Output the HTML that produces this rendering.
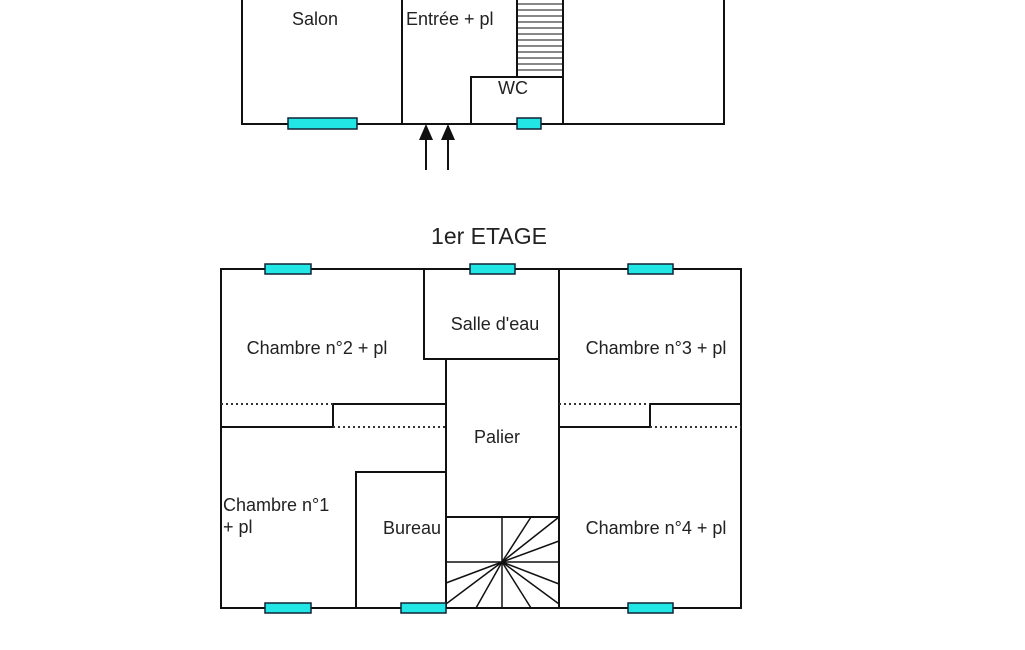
<!DOCTYPE html>
<html><head><meta charset="utf-8"><style>
html,body{margin:0;padding:0;background:#fff;}
svg{display:block}
text{font-family:"Liberation Sans",Arial,sans-serif;fill:#222;}
</style></head><body>
<svg width="1025" height="650" viewBox="0 0 1025 650" xmlns="http://www.w3.org/2000/svg">
<g stroke="#111" stroke-width="2" fill="none">
<polyline points="242,0 242,124 724,124 724,0"/>
<line x1="402" y1="0" x2="402" y2="124"/>
<polyline points="471,124 471,77 563,77 563,124"/>
<line x1="517" y1="0" x2="517" y2="77"/>
<line x1="563" y1="0" x2="563" y2="77"/>
</g>
<g stroke="#111" stroke-width="1">
<line x1="517" y1="4" x2="563" y2="4"/><line x1="517" y1="10" x2="563" y2="10"/>
<line x1="517" y1="16" x2="563" y2="16"/><line x1="517" y1="22" x2="563" y2="22"/>
<line x1="517" y1="28" x2="563" y2="28"/><line x1="517" y1="34" x2="563" y2="34"/>
<line x1="517" y1="40" x2="563" y2="40"/><line x1="517" y1="46" x2="563" y2="46"/>
<line x1="517" y1="52" x2="563" y2="52"/><line x1="517" y1="58" x2="563" y2="58"/>
<line x1="517" y1="64" x2="563" y2="64"/><line x1="517" y1="70" x2="563" y2="70"/>
</g>
<g fill="#22e6e6" stroke="#123" stroke-width="1.5">
<rect x="288" y="118" width="69" height="11"/>
<rect x="517" y="118" width="24" height="11"/>
</g>
<g stroke="#111" stroke-width="2">
<line x1="426" y1="170" x2="426" y2="138"/>
<line x1="448" y1="170" x2="448" y2="138"/>
</g>
<polygon points="426,124 419,140 433,140" fill="#111"/>
<polygon points="448,124 441,140 455,140" fill="#111"/>
<text x="315" y="25" font-size="18" text-anchor="middle">Salon</text>
<text x="406" y="25" font-size="18">Entrée + pl</text>
<text x="513" y="94" font-size="18" text-anchor="middle">WC</text>

<text x="489" y="244" font-size="23" text-anchor="middle">1er ETAGE</text>
<g stroke="#111" stroke-width="2" fill="none">
<rect x="221" y="269" width="520" height="339"/>
<polyline points="424,269 424,359 559,359"/>
<line x1="559" y1="269" x2="559" y2="608"/>
<line x1="446" y1="359" x2="446" y2="608"/>
<polyline points="221,427 333,427 333,404 446,404"/>
<polyline points="559,427 650,427 650,404 741,404"/>
<polyline points="356,608 356,472 446,472"/>
<line x1="446" y1="517" x2="559" y2="517"/>
</g>
<g stroke="#333" stroke-width="2" stroke-dasharray="2,3">
<line x1="221" y1="404" x2="333" y2="404"/>
<line x1="333" y1="427" x2="446" y2="427"/>
<line x1="559" y1="404" x2="650" y2="404"/>
<line x1="650" y1="427" x2="741" y2="427"/>
</g>
<g stroke="#111" stroke-width="1.5">
<line x1="502" y1="517" x2="502" y2="608"/>
<line x1="446" y1="562" x2="559" y2="562"/>
<line x1="502" y1="562" x2="531" y2="517"/>
<line x1="502" y1="562" x2="559" y2="517"/>
<line x1="502" y1="562" x2="559" y2="541"/>
<line x1="502" y1="562" x2="559" y2="584"/>
<line x1="502" y1="562" x2="559" y2="604"/>
<line x1="502" y1="562" x2="531" y2="608"/>
<line x1="502" y1="562" x2="476" y2="608"/>
<line x1="502" y1="562" x2="446" y2="604"/>
<line x1="502" y1="562" x2="446" y2="583"/>
</g>
<g fill="#22e6e6" stroke="#123" stroke-width="1.5">
<rect x="265" y="264" width="46" height="10"/>
<rect x="470" y="264" width="45" height="10"/>
<rect x="628" y="264" width="45" height="10"/>
<rect x="265" y="603" width="46" height="10"/>
<rect x="401" y="603" width="45" height="10"/>
<rect x="628" y="603" width="45" height="10"/>
</g>
<g font-size="18">
<text x="495" y="330" text-anchor="middle">Salle d'eau</text>
<text x="317" y="354" text-anchor="middle">Chambre n°2 + pl</text>
<text x="656" y="354" text-anchor="middle">Chambre n°3 + pl</text>
<text x="497" y="443" text-anchor="middle">Palier</text>
<text x="223" y="511">Chambre n°1</text>
<text x="223" y="533">+ pl</text>
<text x="412" y="534" text-anchor="middle">Bureau</text>
<text x="656" y="534" text-anchor="middle">Chambre n°4 + pl</text>
</g>
</svg>
</body></html>
